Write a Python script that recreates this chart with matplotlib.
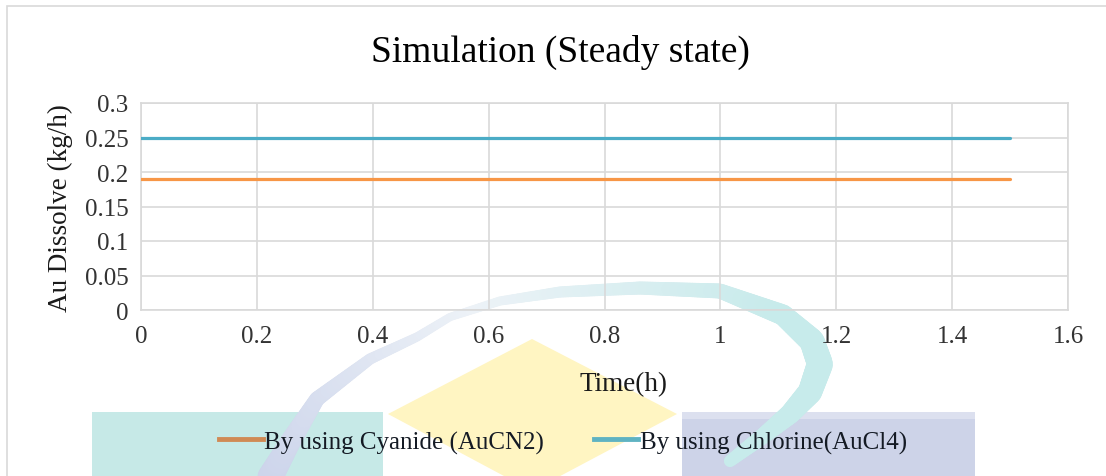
import numpy as np
import matplotlib
matplotlib.use("Agg")
import matplotlib.pyplot as plt
from matplotlib.patches import Rectangle, Polygon
from matplotlib.lines import Line2D

# Steady-state simulation results
time_h = [0.0, 1.5]
cyanide_au = [0.19, 0.19]
chlorine_au = [0.25, 0.25]
series_labels = ["By using Cyanide (AuCN2)", "By using Chlorine(AuCl4)"]
x_ticks = [0, 0.2, 0.4, 0.6, 0.8, 1, 1.2, 1.4, 1.6]
y_ticks = [0, 0.05, 0.1, 0.15, 0.2, 0.25, 0.3]
x_tick_labels = ["0", "0.2", "0.4", "0.6", "0.8", "1", "1.2", "1.4", "1.6"]
y_tick_labels = ["0", "0.05", "0.1", "0.15", "0.2", "0.25", "0.3"]

ORANGE = "#F79646"
BLUE = "#4BACC6"
GRID = "#D9D9D9"
TEXT = "#1a1a1a"
TICK = "#333333"

plt.rcParams["font.family"] = ["Liberation Serif", "DejaVu Serif"]

W, H = 1106, 477
fig = plt.figure(figsize=(W / 100, H / 100), dpi=100)


def px(x, y):
    """Pixel position (from top-left) to figure fraction."""
    return x / W, 1 - y / H


# outer chart border
fig.patches.append(Rectangle(px(7, 600), 1200 / W, 593 / H,
                             transform=fig.transFigure, fill=False,
                             edgecolor=GRID, linewidth=1.2, zorder=0))

# pale emblem in the background
fig.patches.append(Rectangle(px(92, 480), (383 - 92) / W, (480 - 413) / H,
                             transform=fig.transFigure, facecolor="#C6E9E7",
                             edgecolor="none", zorder=0))
fig.patches.append(Rectangle(px(682, 480), (975 - 682) / W, (480 - 413) / H,
                             transform=fig.transFigure, facecolor="#CDD3E8",
                             edgecolor="none", zorder=0))
fig.patches.append(Rectangle(px(682, 420), (975 - 682) / W, 7 / H,
                             transform=fig.transFigure, facecolor="#DCE0EF",
                             edgecolor="none", zorder=0.01))
fig.patches.append(Polygon([px(532, 340), px(677, 415), px(532, 492), px(388, 415)],
                           closed=True, transform=fig.transFigure,
                           facecolor="#FFF5C2", edgecolor="none", zorder=0.1))

# swoosh: path points (px), stroke width (px) and tint along the path
swoosh = np.array([(268, 482), (292, 440), (317, 400), (370, 360), (417, 338),
                   (450, 318), (500, 302), (560, 293), (640, 289), (720, 292),
                   (783, 316), (812, 342), (820, 365), (810, 393), (790, 415),
                   (763, 437), (730, 462)], dtype=float)
swoosh_w = np.array([26, 20, 15, 11, 9, 8, 9, 11, 13, 15, 21, 25, 26, 24, 20, 16, 12], dtype=float)
tint_left = np.array([0.80, 0.83, 0.92])
tint_mid = np.array([0.93, 0.95, 0.97])
tint_right = np.array([0.78, 0.92, 0.92])

seg = np.r_[0, np.cumsum(np.hypot(*np.diff(swoosh, axis=0).T))]
seg /= seg[-1]
s = np.linspace(0, 1, 300)
sx = np.interp(s, seg, swoosh[:, 0])
sy = np.interp(s, seg, swoosh[:, 1])
sw = np.interp(s, seg, swoosh_w)
for i in range(len(s) - 1):
    f = s[i]
    if f < 0.35:
        col = tint_left + (tint_mid - tint_left) * (f / 0.35)
    elif f < 0.55:
        col = tint_mid + (tint_right - tint_mid) * ((f - 0.35) / 0.2) * 0.5
    else:
        col = tint_mid + (tint_right - tint_mid) * (0.5 + 0.5 * min((f - 0.55) / 0.2, 1))
    x0, y0 = px(sx[i], sy[i])
    x1, y1 = px(sx[i + 1], sy[i + 1])
    fig.lines.append(Line2D([x0, x1], [y0, y1], transform=fig.transFigure,
                            color=col, linewidth=sw[i] / 1.389,
                            solid_capstyle="round", zorder=0.05))

# plot area
left, right, top, bottom = 141, 1068, 104, 311
ax = fig.add_axes([left / W, 1 - bottom / H, (right - left) / W, (bottom - top) / H])
ax.set_zorder(1)
ax.set_facecolor("none")
ax.plot(time_h, chlorine_au, color=BLUE, linewidth=2.3, solid_capstyle="round",
        label=series_labels[1], zorder=3)
ax.plot(time_h, cyanide_au, color=ORANGE, linewidth=2.3, solid_capstyle="round",
        label=series_labels[0], zorder=3)

ax.set_xlim(0, 1.6)
ax.set_ylim(0, 0.3)
ax.set_xticks(x_ticks)
ax.set_xticklabels(x_tick_labels)
ax.set_yticks(y_ticks)
ax.set_yticklabels(y_tick_labels)
ax.grid(True, color=GRID, linewidth=1.2)
ax.set_axisbelow(True)
for sp in ax.spines.values():
    sp.set_color(GRID)
    sp.set_linewidth(1.2)
ax.tick_params(length=0, labelsize=18, colors=TICK)
ax.tick_params(axis="y", pad=9)
ax.tick_params(axis="x", pad=11)

fig.text(560 / W, 1 - 52 / H, "Simulation (Steady state)", ha="center", va="center",
         fontsize=27, color="#000000")
fig.text(624 / W, 1 - 385 / H, "Time(h)", ha="center", va="center",
         fontsize=19.5, color=TEXT)
fig.text(60 / W, 1 - 208 / H, "Au Dissolve (kg/h)", ha="center", va="center",
         rotation=90, fontsize=19.5, color=TEXT)

handles = [Line2D([], [], color="#D08A55", linewidth=3.5),
           Line2D([], [], color="#5FB3C2", linewidth=3.5)]
fig.legend(handles, series_labels, loc="center", bbox_to_anchor=(563 / W, 1 - 443 / H),
           ncol=2, frameon=False, fontsize=18, handlelength=1.75, handletextpad=0.08,
           columnspacing=2.0, labelcolor="#141a24")

fig.savefig("out.png", dpi=100)
